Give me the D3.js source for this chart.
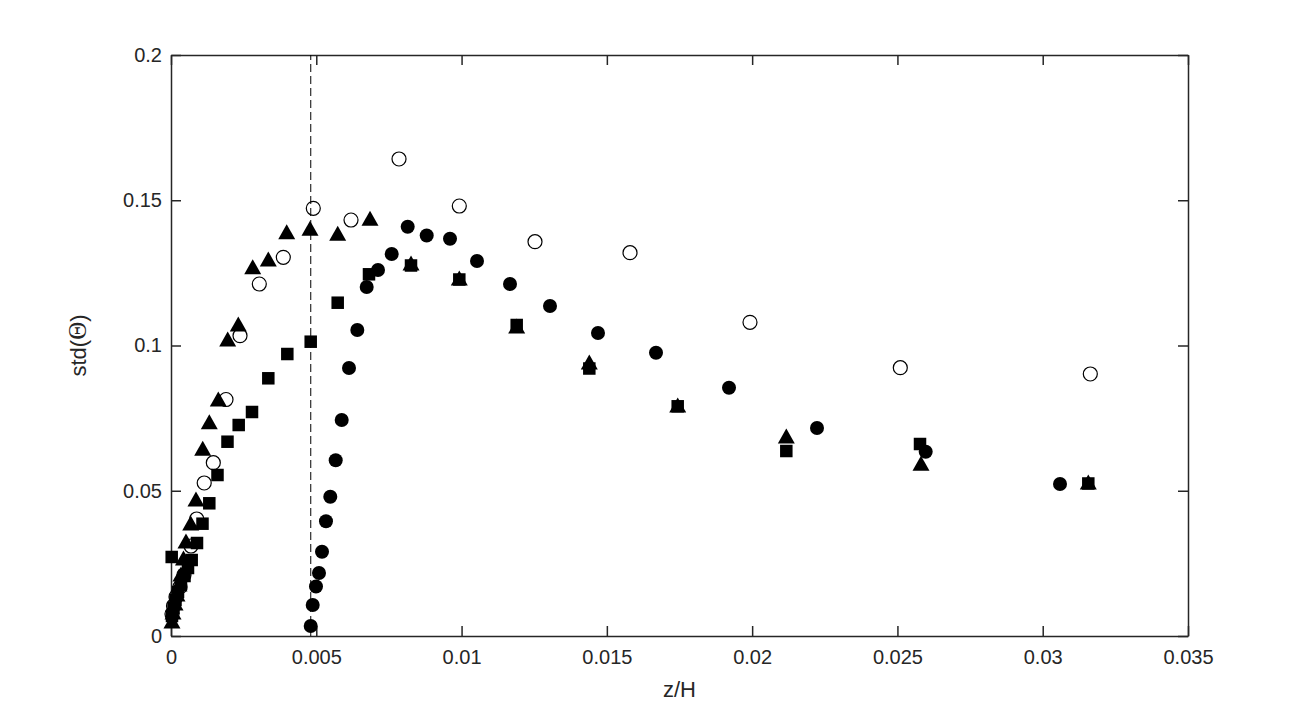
<!DOCTYPE html>
<html>
<head>
<meta charset="utf-8">
<script src="https://cdn.jsdelivr.net/npm/d3@7/dist/d3.min.js"></script>
<style>
  body { margin: 0; background: #fff; }
  .axis text { font-family: "Liberation Sans", Arial, sans-serif; font-size: 20px; fill: #262626; }
  .axis line, .axis path { stroke: #262626; stroke-width: 1.5; }
  .label { font-family: "Liberation Sans", Arial, sans-serif; font-size: 22px; fill: #262626; }
</style>
</head>
<body>
<svg id="chart" width="1313" height="715"></svg>
<script>
// x ticks / y ticks
var xTicks = [0, 0.005, 0.01, 0.015, 0.02, 0.025, 0.03, 0.035];
var yTicks = [0, 0.05, 0.1, 0.15, 0.2];
var xTickLabels = ["0", "0.005", "0.01", "0.015", "0.02", "0.025", "0.03", "0.035"];
var yTickLabels = ["0", "0.05", "0.1", "0.15", "0.2"];

// position of the dashed reference line
var dashX = 0.00481;

// filled circles
var circX = [0.004808, 0.004877, 0.00499, 0.005093, 0.005197, 0.005334, 0.005482, 0.005668, 0.005875, 0.006126,
             0.006412, 0.006735, 0.007124, 0.007596, 0.008146, 0.0088, 0.009602, 0.010531, 0.011667, 0.013043,
             0.014695, 0.016691, 0.019204, 0.022232, 0.025973, 0.030595];
var circY = [0.00344, 0.01067, 0.01704, 0.02169, 0.02902, 0.03948, 0.04795, 0.06048, 0.07435, 0.09225,
             0.10534, 0.12014, 0.12599, 0.1315, 0.1409, 0.13787, 0.13676, 0.12909, 0.12117, 0.1136,
             0.1043, 0.09752, 0.08547, 0.0716, 0.06344, 0.05232];

// open circles
var openX = [0.000034, 0.000086, 0.000172, 0.00031, 0.000447, 0.000688, 0.000884, 0.001143, 0.001456, 0.001893,
             0.002375, 0.003039, 0.003865, 0.004897, 0.006195, 0.007847, 0.009922, 0.012527, 0.015797, 0.019926,
             0.025099, 0.031638];
var openY = [0.00757, 0.01033, 0.01343, 0.01687, 0.021, 0.03098, 0.04028, 0.05267, 0.05966, 0.08141,
             0.10337, 0.12117, 0.13036, 0.14723, 0.1432, 0.1642, 0.14802, 0.13573, 0.13194, 0.10799,
             0.09236, 0.09019];

// triangles
var triX = [0.000034, 0.000069, 0.000138, 0.000206, 0.000275, 0.000344, 0.00043, 0.000516, 0.000678, 0.00086,
            0.001091, 0.001318, 0.001628, 0.001951, 0.002316, 0.002812, 0.003349, 0.003982, 0.004784, 0.005737,
            0.006849, 0.00826, 0.009922, 0.011897, 0.014396, 0.017438, 0.021176, 0.025811, 0.031569];
var triY = [0.00516, 0.00826, 0.01136, 0.01446, 0.0179, 0.02134, 0.02685, 0.0327, 0.0389, 0.04716,
            0.06461, 0.07377, 0.08158, 0.10224, 0.1074, 0.12713, 0.12978, 0.13917, 0.14034, 0.13862,
            0.14379, 0.1284, 0.12324, 0.10671, 0.09432, 0.07952, 0.06885, 0.05945, 0.05301];

// squares
var sqX = [0.000024, 0.000034, 0.000086, 0.000155, 0.000241, 0.000344, 0.000465, 0.000585, 0.000712, 0.000895,
           0.001084, 0.001318, 0.0016, 0.001944, 0.00233, 0.002788, 0.003349, 0.004003, 0.004808, 0.005737,
           0.006814, 0.00826, 0.009922, 0.011897, 0.014396, 0.017438, 0.021176, 0.025777, 0.031569];
var sqY = [0.0272, 0.00688, 0.00964, 0.01239, 0.01515, 0.0179, 0.02065, 0.02341, 0.02616, 0.03201,
           0.03866, 0.04568, 0.05542, 0.06688, 0.07263, 0.07711, 0.08871, 0.09707, 0.10131, 0.11473,
           0.12451, 0.12754, 0.12272, 0.10706, 0.09208, 0.07907, 0.06368, 0.06609, 0.0525];

function zip(xs, ys) {
    return xs.map(function(d, i) { return { x: d, y: ys[i] }; });
}

var svg = d3.select("#chart");
var MARGINS = { left: 171, right: 125, top: 55, bottom: 79 };
var WIDTH = 1313, HEIGHT = 715;

var xScale = d3.scaleLinear().domain([0, 0.035]).range([MARGINS.left, WIDTH - MARGINS.right]);
var yScale = d3.scaleLinear().domain([0, 0.2]).range([HEIGHT - MARGINS.bottom, MARGINS.top]);

// axes, ticks pointing inward on all four sides
svg.append("g")
    .attr("class", "axis")
    .attr("transform", "translate(0," + yScale(0) + ")")
    .call(d3.axisBottom(xScale).tickValues(xTicks)
        .tickFormat(function(d, i) { return xTickLabels[i]; })
        .tickSizeInner(-10).tickSizeOuter(0).tickPadding(14));

svg.append("g")
    .attr("class", "axis")
    .attr("transform", "translate(0," + yScale(0.2) + ")")
    .call(d3.axisTop(xScale).tickValues(xTicks).tickFormat("")
        .tickSizeInner(-10).tickSizeOuter(0));

svg.append("g")
    .attr("class", "axis")
    .attr("transform", "translate(" + xScale(0) + ",0)")
    .call(d3.axisLeft(yScale).tickValues(yTicks)
        .tickFormat(function(d, i) { return yTickLabels[i]; })
        .tickSizeInner(-10).tickSizeOuter(0).tickPadding(9));

svg.append("g")
    .attr("class", "axis")
    .attr("transform", "translate(" + xScale(0.035) + ",0)")
    .call(d3.axisRight(yScale).tickValues(yTicks).tickFormat("")
        .tickSizeInner(-10).tickSizeOuter(0));

svg.selectAll(".axis .domain").attr("fill", "none");

// dashed vertical line
svg.append("line")
    .attr("x1", xScale(dashX)).attr("x2", xScale(dashX))
    .attr("y1", yScale(0)).attr("y2", yScale(0.2))
    .attr("stroke", "#000")
    .attr("stroke-width", 1)
    .attr("stroke-dasharray", "8,4");

// open circles
svg.append("g").selectAll("circle")
    .data(zip(openX, openY))
    .enter().append("circle")
    .attr("cx", function(d) { return xScale(d.x); })
    .attr("cy", function(d) { return yScale(d.y); })
    .attr("r", 7)
    .attr("fill", "none")
    .attr("stroke", "#000")
    .attr("stroke-width", 1.2);

// triangles
svg.append("g").selectAll("path")
    .data(zip(triX, triY))
    .enter().append("path")
    .attr("d", "M0,-7.5L8.5,7.5L-8.5,7.5Z")
    .attr("transform", function(d) { return "translate(" + xScale(d.x) + "," + yScale(d.y) + ")"; })
    .attr("fill", "#000");

// squares
svg.append("g").selectAll("rect")
    .data(zip(sqX, sqY))
    .enter().append("rect")
    .attr("x", function(d) { return xScale(d.x) - 6.25; })
    .attr("y", function(d) { return yScale(d.y) - 6.25; })
    .attr("width", 12.5)
    .attr("height", 12.5)
    .attr("fill", "#000");

// filled circles
svg.append("g").selectAll("circle")
    .data(zip(circX, circY))
    .enter().append("circle")
    .attr("cx", function(d) { return xScale(d.x); })
    .attr("cy", function(d) { return yScale(d.y); })
    .attr("r", 7)
    .attr("fill", "#000");

// axis labels
svg.append("text")
    .attr("class", "label")
    .attr("x", (xScale(0) + xScale(0.035)) / 2)
    .attr("y", 697)
    .attr("text-anchor", "middle")
    .text("z/H");

var yl = svg.append("text")
    .attr("class", "label")
    .attr("text-anchor", "middle")
    .attr("transform", "translate(86," + (yScale(0) + yScale(0.2)) / 2 + ") rotate(-90)");
yl.append("tspan").text("std(");
yl.append("tspan")
    .style("font-family", "'Liberation Serif', 'DejaVu Serif', serif")
    .style("font-size", "25px")
    .text("Θ");
yl.append("tspan").text(")");
</script>
</body>
</html>
